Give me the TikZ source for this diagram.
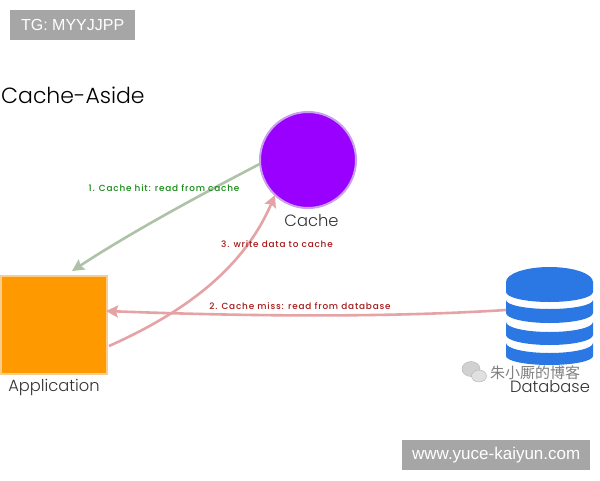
\documentclass[tikz,border=0pt]{standalone}
\usepackage{fontspec}
\setmainfont{Poppins Light}
\newfontfamily\labfont[LetterSpace=9]{Poppins Medium}
\newfontfamily\arialish{Liberation Sans}
\newfontfamily\cjk{Noto Sans CJK SC}
\usetikzlibrary{arrows.meta}
\definecolor{pgreen}{HTML}{ADC2A6}
\definecolor{ppink}{HTML}{E5A3A6}
\definecolor{tgreen}{HTML}{148A14}
\definecolor{tred}{HTML}{A81818}
\definecolor{dbblue}{HTML}{2B78E4}
\definecolor{badge}{HTML}{A6A6A6}
\definecolor{lab}{HTML}{333333}
\definecolor{cachefill}{HTML}{9900FF}
\definecolor{cacheline}{HTML}{C8A0EB}
\definecolor{appfill}{HTML}{FF9900}
\definecolor{appline}{HTML}{FACD8C}
\tikzset{
 x=1pt,y=-1pt,
 badgebox/.style={fill=badge,text=white,font=\arialish\fontsize{16}{16}\selectfont,inner sep=0pt,minimum height=30pt,anchor=north west},
 caption/.style={text=lab,font=\fontsize{16.3}{17}\selectfont,inner sep=0pt},
 edgelabel/.style={font=\labfont\fontsize{8.9}{9}\selectfont,inner sep=0pt},
 hit/.style={draw=pgreen,line width=2.6pt,-{Stealth[length=12pt,width=12pt,inset=2pt]}},
 miss/.style={draw=ppink,line width=2.6pt,-{Stealth[length=12pt,width=12pt,inset=2pt]}},
 dbband/.style={fill=dbblue,draw=none},
}
\begin{document}
\begin{tikzpicture}
\useasboundingbox (0,0) rectangle (600,480);
\fill[white] (0,0) rectangle (600,480);
\node[badgebox,minimum width=125pt] (tg) at (10,10) {TG: MYYJJPP};
\node[badgebox,minimum width=188pt,font=\arialish\fontsize{17}{17}\selectfont] (web) at (402,440) {www.yuce-kaiyun.com};
\node[anchor=west,inner sep=0pt,font=\fontsize{22}{23}\selectfont] (title) at (1,95) {Cache-Aside};
\node[circle,fill=cachefill,draw=cacheline,line width=2pt,minimum size=96pt,inner sep=0pt] (cache) at (308,160) {};
\node[rectangle,fill=appfill,draw=appline,line width=2pt,minimum width=106pt,minimum height=98pt,inner sep=0pt] (app) at (54,324.5) {};
\node[caption] (cachelab) at (311.5,221) {Cache};
\node[caption] (applab) at (54,387) {Application};
\node[caption] (dblab) at (550,387) {Database};
% database
\fill[dbband] (506,282) arc[start angle=180,end angle=360,x radius=43.5,y radius=15] -- (593,292) arc[start angle=0,end angle=180,x radius=43.5,y radius=10] -- cycle;
\fill[dbband] (506,300) arc[start angle=180,end angle=0,x radius=43.5,y radius=9] -- (593,313) arc[start angle=0,end angle=180,x radius=43.5,y radius=10] -- cycle;
\fill[dbband] (506,322) arc[start angle=180,end angle=0,x radius=43.5,y radius=10] -- (593,335) arc[start angle=0,end angle=180,x radius=43.5,y radius=10] -- cycle;
\fill[dbband] (506,343) arc[start angle=180,end angle=0,x radius=43.5,y radius=10] -- (593,356) arc[start angle=0,end angle=180,x radius=43.5,y radius=9] -- cycle;
\coordinate (dbedge) at (506,310);
\coordinate (appstart) at (109,346);
% connectors
\draw[hit] (cache.185) .. controls (200,195) and (130,233) .. (72,271);
\draw[miss] (dbedge) .. controls (380,318) and (240,316) .. (106,311);
\draw[miss] (appstart) .. controls (190,310) and (245,265) .. (275,195);
\node[edgelabel,text=tgreen] (l1) at (164,188) {1. Cache hit: read from cache};
\node[edgelabel,text=tred] (l2) at (300,306) {2. Cache miss: read from database};
\node[edgelabel,text=tred] (l3) at (277,244) {3. write data to cache};
% watermark
\fill[black!18,draw=black!30,line width=.4pt] (471,369) ellipse[x radius=9,y radius=7.5];
\fill[black!12,draw=black!30,line width=.4pt] (479,376) ellipse[x radius=7.5,y radius=6];
\node[text=black!50,inner sep=0pt,font=\cjk\fontsize{15}{15}\selectfont] (wm) at (535,373) {朱小厮的博客};
\end{tikzpicture}
\end{document}
